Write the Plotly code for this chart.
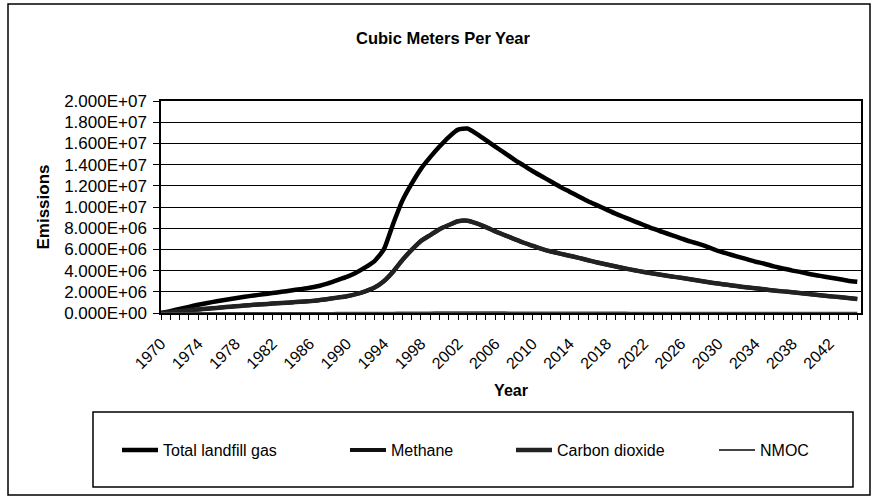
import plotly.graph_objects as go

years = list(range(1970, 2046))

total_gas = [
    0.0, 0.18, 0.38, 0.58, 0.78, 0.95, 1.10, 1.25, 1.40, 1.53,
    1.65, 1.77, 1.88, 2.00, 2.12, 2.25, 2.38, 2.55, 2.80, 3.10,
    3.40, 3.80, 4.30, 4.90, 6.00, 8.40, 10.6, 12.2, 13.6, 14.7,
    15.7, 16.6, 17.3, 17.4, 16.9, 16.3, 15.7, 15.1, 14.5, 13.95,
    13.4, 12.9, 12.4, 11.9, 11.45, 11.0, 10.55, 10.15, 9.75, 9.35,
    9.0, 8.65, 8.3, 7.95, 7.65, 7.35, 7.05, 6.75, 6.5, 6.2,
    5.85, 5.6, 5.35, 5.1, 4.85, 4.65, 4.4, 4.2, 4.0, 3.85,
    3.65, 3.5, 3.35, 3.2, 3.05, 2.95,
]

methane = [
    0.0, 0.08, 0.17, 0.26, 0.34, 0.41, 0.48, 0.56, 0.63, 0.70,
    0.77, 0.83, 0.89, 0.95, 1.00, 1.06, 1.12, 1.20, 1.32, 1.45,
    1.58, 1.78, 2.05, 2.40, 3.00, 3.90, 5.00, 5.95, 6.80, 7.35,
    7.90, 8.30, 8.65, 8.70, 8.45, 8.10, 7.70, 7.35, 7.00, 6.65,
    6.35, 6.05, 5.80, 5.60, 5.40, 5.20, 4.98, 4.77, 4.57, 4.38,
    4.20, 4.03, 3.87, 3.72, 3.58, 3.45, 3.32, 3.18, 3.04, 2.90,
    2.78, 2.66, 2.54, 2.43, 2.33, 2.23, 2.13, 2.04, 1.95, 1.86,
    1.77, 1.68, 1.59, 1.50, 1.41, 1.32,
]

carbon_dioxide = [
    0.0, 0.08, 0.17, 0.26, 0.34, 0.41, 0.48, 0.56, 0.63, 0.70,
    0.77, 0.83, 0.89, 0.95, 1.00, 1.06, 1.12, 1.20, 1.32, 1.45,
    1.58, 1.78, 2.05, 2.40, 3.00, 3.90, 5.00, 5.95, 6.80, 7.35,
    7.90, 8.30, 8.65, 8.70, 8.45, 8.10, 7.70, 7.35, 7.00, 6.65,
    6.35, 6.05, 5.80, 5.60, 5.40, 5.20, 4.98, 4.77, 4.57, 4.38,
    4.20, 4.03, 3.87, 3.72, 3.58, 3.45, 3.32, 3.18, 3.04, 2.90,
    2.78, 2.66, 2.54, 2.43, 2.33, 2.23, 2.13, 2.04, 1.95, 1.86,
    1.77, 1.68, 1.59, 1.50, 1.41, 1.32,
]

nmoc = [
    0.0, 0.001, 0.002, 0.002, 0.003, 0.004, 0.004, 0.005, 0.006, 0.006,
    0.007, 0.007, 0.008, 0.008, 0.008, 0.009, 0.01, 0.01, 0.011, 0.012,
    0.014, 0.015, 0.017, 0.02, 0.025, 0.034, 0.044, 0.049, 0.054, 0.058,
    0.063, 0.066, 0.069, 0.07, 0.068, 0.065, 0.063, 0.06, 0.058, 0.056,
    0.054, 0.052, 0.05, 0.048, 0.046, 0.044, 0.042, 0.041, 0.039, 0.037,
    0.036, 0.035, 0.033, 0.032, 0.031, 0.029, 0.028, 0.027, 0.026, 0.025,
    0.023, 0.022, 0.021, 0.02, 0.019, 0.019, 0.018, 0.017, 0.016, 0.015,
    0.015, 0.014, 0.013, 0.013, 0.012, 0.012,
]

series_names = ["Total landfill gas", "Methane", "Carbon dioxide", "NMOC"]

x_tick_years = list(range(1970, 2043, 4))
x_tick_labels = [str(y) for y in x_tick_years]
y_tick_values = [0, 2e6, 4e6, 6e6, 8e6, 1e7, 1.2e7, 1.4e7, 1.6e7, 1.8e7, 2e7]
y_tick_labels = ["0.000E+00", "2.000E+06", "4.000E+06", "6.000E+06", "8.000E+06",
                 "1.000E+07", "1.200E+07", "1.400E+07", "1.600E+07", "1.800E+07",
                 "2.000E+07"]

FONT = "Liberation Sans, Arial, sans-serif"
W, H = 877, 498
L, R, T, B = 161, 16, 101, 185
PW, PH = W - L - R, H - T - B


def px(x):
    return (x - L) / PW


def py(y):
    return (H - B - y) / PH


fig = go.Figure()
styles = [
    dict(color="black", width=4.5),
    dict(color="#111111", width=4),
    dict(color="#222222", width=4.5),
    dict(color="#444444", width=2),
]
series = [total_gas, methane, carbon_dioxide, nmoc]
legend_x = [117, 345, 511, 714]
for i, (name, vals) in enumerate(zip(series_names, series)):
    fig.add_trace(go.Scatter(
        x=years, y=[v * 1e6 for v in vals], name=name, mode="lines",
        line=dict(shape="spline", smoothing=0.5, **styles[i]),
        legend="legend" if i == 0 else f"legend{i+1}",
    ))

legend_common = dict(orientation="h", yanchor="middle", xanchor="left",
                     bgcolor="rgba(0,0,0,0)", borderwidth=0,
                     font=dict(family=FONT, size=16, color="black"),
                     itemwidth=36)
layout_legends = {}
for i, lx in enumerate(legend_x):
    key = "legend" if i == 0 else f"legend{i+1}"
    layout_legends[key] = dict(x=px(lx), y=py(450), **legend_common)

fig.update_layout(
    width=W, height=H,
    margin=dict(l=L, r=R, t=T, b=B, autoexpand=False),
    paper_bgcolor="white", plot_bgcolor="white",
    font=dict(family=FONT, size=15, color="black"),
    title=dict(text="<b>Cubic Meters Per Year</b>", xref="container", x=443 / W, xanchor="center",
               yref="container", y=1 - 38 / H, yanchor="middle",
               font=dict(family=FONT, size=16.5, color="black")),
    showlegend=True,
    **layout_legends,
    xaxis=dict(
        range=[1970, 2045.4], tickmode="array", tickvals=x_tick_years,
        ticktext=x_tick_labels, tickangle=-45, ticks="outside", ticklen=5,
        tickcolor="black", showgrid=False, zeroline=False, ticklabelstandoff=8,
        showline=True, linecolor="black", linewidth=2, mirror=True,
        minor=dict(dtick=1, tick0=1970, ticks="outside", ticklen=5, tickcolor="black", showgrid=False),
        tickfont=dict(family=FONT, size=16, color="black"),
        title=dict(text="<b>Year</b>", font=dict(family=FONT, size=16, color="black"), standoff=14),
    ),
    yaxis=dict(
        range=[0, 2e7], tickmode="array", tickvals=y_tick_values, ticktext=y_tick_labels,
        ticks="outside", ticklen=6, tickcolor="black", ticklabelstandoff=3,
        showgrid=True, gridcolor="black", gridwidth=1, zeroline=False,
        showline=True, linecolor="black", linewidth=1.5, mirror=True,
        tickfont=dict(family=FONT, size=17, color="black"),
        title=dict(text="<b>Emissions</b>", font=dict(family=FONT, size=17, color="black"), standoff=10),
    ),
    shapes=[
        dict(type="rect", xref="paper", yref="paper",
             x0=px(8), x1=px(870), y0=py(495), y1=py(4),
             line=dict(color="black", width=1.5), fillcolor="rgba(0,0,0,0)", layer="below"),
        dict(type="rect", xref="paper", yref="paper",
             x0=px(93), x1=px(853), y0=py(487), y1=py(412),
             line=dict(color="black", width=1.5), fillcolor="rgba(0,0,0,0)", layer="below"),
    ],
)

fig.write_html("out.html", config={"displayModeBar": False},
               post_script="document.body.style.margin='0';")
